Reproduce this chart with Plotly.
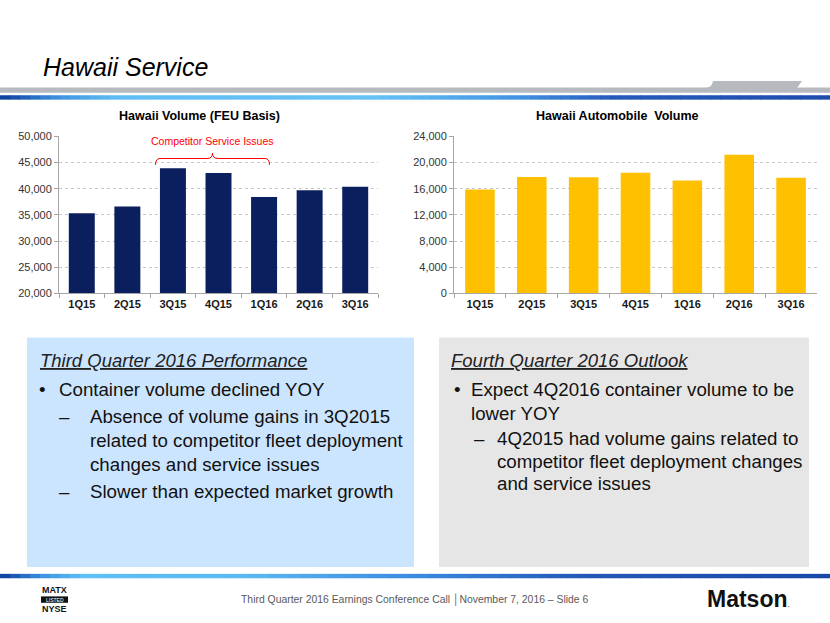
import plotly.graph_objects as go

# ---------------- data ----------------
quarters = ["1Q15", "2Q15", "3Q15", "4Q15", "1Q16", "2Q16", "3Q16"]
feu_volume = [35300, 36600, 43900, 43000, 38400, 39700, 40400]
auto_volume = [15900, 17800, 17750, 18450, 17250, 21200, 17700]
feu_ticks = [20000, 25000, 30000, 35000, 40000, 45000, 50000]
auto_ticks = [0, 4000, 8000, 12000, 16000, 20000, 24000]

W, H = 830, 623
FONT = "Liberation Sans, Arial, sans-serif"
NARROW = "Liberation Sans Narrow, Arial Narrow, Liberation Sans, Arial, sans-serif"


def px(x):
    return x / W


def py(y):
    return 1 - y / H


def hex2rgb(h):
    h = h.lstrip("#")
    return tuple(int(h[i:i + 2], 16) for i in (0, 2, 4))


def interp(stops, t):
    for (t0, c0), (t1, c1) in zip(stops[:-1], stops[1:]):
        if t0 <= t <= t1:
            f = 0 if t1 == t0 else (t - t0) / (t1 - t0)
            a, b = hex2rgb(c0), hex2rgb(c1)
            return "rgb(%d,%d,%d)" % tuple(round(a[i] + (b[i] - a[i]) * f) for i in range(3))
    return stops[-1][1]


fig = go.Figure()

fig.add_trace(go.Bar(x=quarters, y=feu_volume, marker=dict(color="#0B1F5E", line=dict(width=0)),
                     xaxis="x", yaxis="y", hoverinfo="x+y"))
fig.add_trace(go.Bar(x=quarters, y=auto_volume, marker=dict(color="#FFC000", line=dict(width=0)),
                     xaxis="x2", yaxis="y2", hoverinfo="x+y"))

xax = dict(type="category", showline=True, linecolor="#A6A6A6", linewidth=1,
           ticks="outside", tickson="boundaries", ticklen=4, tickcolor="#A6A6A6",
           tickfont=dict(family=FONT, size=11, color="#1A1A1A", weight="bold"),
           showgrid=False, fixedrange=True)
yax = dict(showline=True, linecolor="#A6A6A6", linewidth=1, ticks="outside", ticklen=4,
           tickcolor="#A6A6A6", tickfont=dict(family=FONT, size=11, color="#333333"),
           showgrid=True, gridcolor="#C8C8C8", griddash="dot", gridwidth=1,
           tickformat=",d", zeroline=False, fixedrange=True)

fig.update_layout(
    width=W, height=H, margin=dict(l=0, r=0, t=0, b=0),
    paper_bgcolor="white", plot_bgcolor="white", showlegend=False,
    bargap=0.43, font=dict(family=FONT),
    xaxis=dict(xax, domain=[px(59), px(378)], anchor="y"),
    yaxis=dict(yax, domain=[py(293), py(133)], anchor="x", range=[20000, 50000],
               tickvals=feu_ticks),
    xaxis2=dict(xax, domain=[px(454), px(817)], anchor="y2"),
    yaxis2=dict(yax, domain=[py(293), py(133)], anchor="x2", range=[0, 24000],
                tickvals=auto_ticks),
)

shapes = []
anns = []


def rect(x0, y0, x1, y1, color):
    shapes.append(dict(type="rect", xref="paper", yref="paper", x0=px(x0), x1=px(x1),
                       y0=py(y1), y1=py(y0), fillcolor=color, line=dict(width=0), layer="below"))


def gradient_line(y0, y1, stops, n=83):
    step = W / n
    for i in range(n):
        t = (i + 0.5) / n
        shapes.append(dict(type="rect", xref="paper", yref="paper",
                           x0=px(i * step), x1=px(min(W, (i + 1) * step + 0.6)),
                           y0=py(y1), y1=py(y0), fillcolor=interp(stops, t),
                           line=dict(width=0), layer="below"))


# header bars
rect(0, 83, 830, 88.5, "#B6BABF")
shapes.append(dict(type="path", xref="paper", yref="paper",
                   path="M %f,%f L %f,%f L %f,%f L %f,%f Q %f,%f %f,%f Z" % (
                       px(713), py(76.5), px(802), py(76.5), px(797), py(83.5),
                       px(706), py(83.5), px(712), py(83), px(713), py(76.5)),
                   fillcolor="#B6BABF", line=dict(width=0), layer="below"))
gradient_line(91, 95.5, [(0, "#0B3A9A"), (0.07, "#3F93E0"), (0.14, "#60BDF3"),
                         (0.45, "#66C2F5"), (0.62, "#4394E2"), (0.74, "#2559B9"),
                         (1, "#1D4CAB")])

# footer line
gradient_line(579, 583.5, [(0, "#0B3A9A"), (0.05, "#3C92E0"), (0.1, "#5EC0F5"),
                           (0.3, "#5AB8F0"), (0.5, "#3B8AE0"), (0.7, "#2458B8"),
                           (1, "#1A48A8")])

# text boxes
rect(27, 338, 414, 572, "#CCE5FF")
rect(439, 338, 809, 572, "#E6E6E6")

# competitor bracket
shapes.append(dict(type="path", xref="paper", yref="paper",
                   path=("M %f,%f Q %f,%f %f,%f L %f,%f Q %f,%f %f,%f "
                         "Q %f,%f %f,%f L %f,%f Q %f,%f %f,%f") % (
                       px(155.5), py(162), px(155.5), py(155.5), px(160), py(155.5),
                       px(207), py(155.5), px(212.5), py(155.5), px(212.5), py(150),
                       px(212.5), py(155.5), px(218), py(155.5),
                       px(265), py(155.5), px(269.5), py(155.5), px(269.5), py(162)),
                   line=dict(color="#FF0000", width=1)))


def txt(x, y, s, size=18.7, color="#111111", xanchor="left", family=FONT, **kw):
    anns.append(dict(xref="paper", yref="paper", x=px(x), y=py(y), text=s, showarrow=False,
                     xanchor=xanchor, yanchor="middle",
                     font=dict(family=family, size=size, color=color, **kw)))


# titles
txt(41, 62, "<i>Hawaii Service</i>", size=25, color="#000000")
txt(199, 112, "<b>Hawaii Volume (FEU Basis)</b>", size=12.5, color="#000000", xanchor="center")
txt(617, 112, "<b>Hawaii Automobile  Volume</b>", size=12.5, color="#000000", xanchor="center")
txt(212.5, 137.5, "Competitor Service Issues", size=10.5, color="#FF0000", xanchor="center")

# left box
txt(38, 361, "<i><u>Third Quarter 2016 Performance</u></i>", size=18.5, color="#222222")
txt(37, 391, "•")
txt(57, 391, "Container volume declined YOY")
txt(57, 419, "–")
txt(88, 419, "Absence of volume gains in 3Q2015")
txt(88, 443, "related to competitor fleet deployment")
txt(88, 467, "changes and service issues")
txt(57, 495, "–")
txt(88, 495, "Slower than expected market growth")

# right box
txt(449, 361, "<i><u>Fourth Quarter 2016 Outlook</u></i>", size=18.5, color="#222222")
txt(452, 391, "•")
txt(469, 391, "Expect 4Q2016 container volume to be")
txt(469, 415, "lower YOY")
txt(472, 441, "–")
txt(495, 441, "4Q2015 had volume gains related to")
txt(495, 464, "competitor fleet deployment changes")
txt(495, 487, "and service issues")

# footer
txt(414, 606, "Third Quarter 2016 Earnings Conference Call \u2502November 7, 2016 \u2013 Slide 6",
    size=10.4, color="#595959", xanchor="center", family=NARROW)
txt(54.5, 595.5, "<b>MATX</b>", size=9, color="#111111", xanchor="center", family=NARROW)
rect(41, 602, 68, 608.5, "#111111")
txt(54.5, 605.3, "LISTED", size=5, color="#FFFFFF", xanchor="center", family=NARROW)
txt(54.5, 614.5, "<b>NYSE</b>", size=9, color="#111111", xanchor="center", family=NARROW)
txt(705, 605, "<b>Matson</b><span style='font-size:8px'>.</span>", size=23, color="#111111")

fig.update_layout(shapes=shapes, annotations=anns)
fig.write_html("out.html", config={"displayModeBar": False},
               post_script="document.body.style.margin='0';")
